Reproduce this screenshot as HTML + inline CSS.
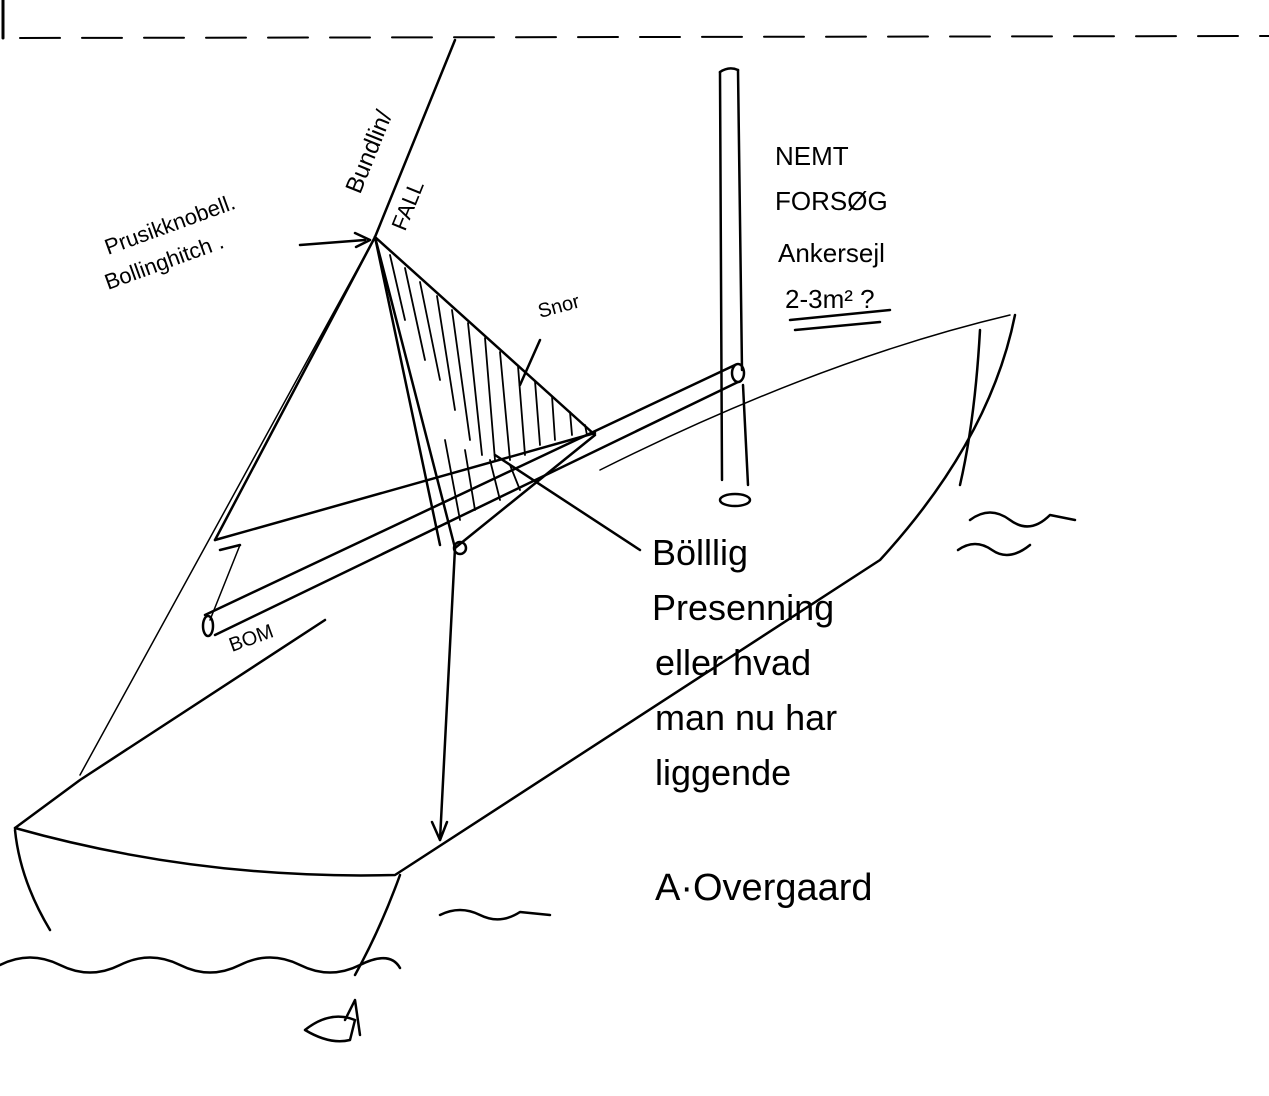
<!DOCTYPE html>
<html><head><meta charset="utf-8"><style>
html,body{margin:0;padding:0;background:#fff;}
svg{display:block;}
text{font-family:"Liberation Sans",sans-serif;fill:#000;}
</style></head><body>
<svg width="1269" height="1096" viewBox="0 0 1269 1096" xmlns="http://www.w3.org/2000/svg">
<g fill="none" stroke="#000" stroke-width="2.5" stroke-linecap="round" stroke-linejoin="round">
<!-- top dashed line -->
<line x1="3" y1="0" x2="3" y2="38" stroke-width="3"/>
<line x1="20" y1="38" x2="1269" y2="36" stroke-dasharray="40,22" stroke-width="2"/>
<!-- mast top line -->
<path d="M375,237 L455,40"/>
<!-- standing tube right -->
<path d="M720,72 L722,480"/>
<path d="M738,70 L742,370 M743,385 L748,485"/>
<path d="M720,72 Q729,66 738,70"/>
<ellipse cx="735" cy="500" rx="15" ry="6"/>
<!-- boom pipe -->
<path d="M205,615 L735,365"/>
<path d="M215,635 L738,382"/>
<ellipse cx="738" cy="373" rx="6" ry="9"/>
<ellipse cx="208" cy="626" rx="5" ry="10"/>
<!-- upper spar -->
<path d="M215,540 L595,433"/>
<path d="M220,550 L240,545"/>
<!-- sail triangle hatched -->
<path d="M375,237 L595,435 L455,548 Z"/>
<path d="M375,237 L440,545"/>
<g stroke-width="1.8">
<path d="M390,255 L405,320 M405,268 L425,360 M420,282 L440,380 M437,296 L455,410 M452,310 L470,440 M468,323 L482,455 M485,338 L495,460 M500,352 L510,460 M518,366 L525,455 M535,381 L540,445 M552,396 L555,440 M570,412 L572,435 M585,425 L587,435"/>
<path d="M445,440 L460,520 M465,450 L475,510 M490,460 L500,500 M510,465 L520,490"/>
</g>
<!-- left sail lines -->
<path d="M375,237 L215,540"/>
<path d="M375,237 L80,775" stroke-width="1.5"/>
<path d="M240,545 L210,620" stroke-width="1.5"/>
<!-- vertical line down with arrow -->
<path d="M455,548 L440,840"/>
<path d="M432,822 L440,840 L447,822"/>
<circle cx="460" cy="548" r="6"/>
<path d="M300,245 L365,240"/>
<path d="M355,233 L370,240 L356,247"/>
<!-- snor pointer -->
<path d="M540,340 L520,385"/>
<!-- bolling pointer -->
<path d="M495,455 L640,550"/>
<!-- hull -->
<path d="M15,828 L80,780 L325,620"/>
<path d="M15,828 Q200,880 395,875 L880,560 Q990,440 1015,315"/>
<path d="M600,470 Q820,360 1010,315" stroke-width="1.5"/>
<path d="M15,830 Q20,880 50,930"/>
<path d="M400,875 Q380,930 355,975"/>
<path d="M980,330 Q975,420 960,485"/>
<!-- waves -->
<path d="M0,965 Q30,950 60,965 T120,965 T180,965 T240,965 T300,965 T360,965 T400,968"/>
<path d="M440,915 Q460,905 480,915 T520,912 L550,915"/>
<path d="M970,520 Q990,505 1010,520 T1050,515 L1075,520"/>
<path d="M958,550 Q975,538 992,550 T1030,545"/>
<!-- underline -->
<path d="M790,320 L890,310 M795,330 L880,322"/>
<!-- fish -->
<path d="M305,1030 Q330,1010 355,1020 L350,1040 Q330,1045 305,1030 M345,1020 L355,1000 L360,1035"/>
</g>
<!-- labels -->
<text x="0" y="0" font-size="24" transform="translate(360,195) rotate(-68)">Bundlin/</text>
<text x="0" y="0" font-size="22" transform="translate(405,232) rotate(-68)">FALL</text>
<text x="0" y="0" font-size="22" transform="translate(108,255) rotate(-20)">Prusikknobell.</text>
<text x="0" y="0" font-size="22" transform="translate(108,290) rotate(-20)">Bollinghitch .</text>
<text x="0" y="0" font-size="20" transform="translate(540,318) rotate(-15)">Snor</text>
<text x="0" y="0" font-size="20" transform="translate(232,652) rotate(-20)">BOM</text>
<text x="775" y="165" font-size="26">NEMT</text>
<text x="775" y="210" font-size="26">FORSØG</text>
<text x="778" y="262" font-size="26">Ankersejl</text>
<text x="785" y="308" font-size="26">2-3m² ?</text>
<text x="652" y="565" font-size="36">Bölllig</text>
<text x="652" y="620" font-size="36">Presenning</text>
<text x="655" y="675" font-size="36">eller hvad</text>
<text x="655" y="730" font-size="36">man nu har</text>
<text x="655" y="785" font-size="36">liggende</text>
<text x="655" y="900" font-size="38">A·Overgaard</text>
</svg>
</body></html>
